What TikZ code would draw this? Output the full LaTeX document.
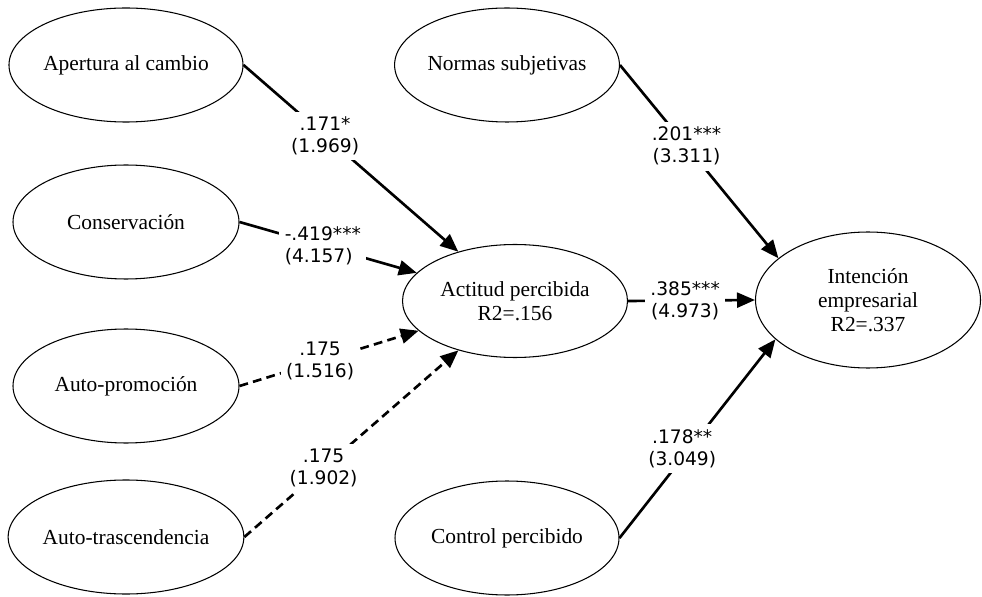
\documentclass[tikz,border=0pt]{standalone}
\usepackage{fontspec}
\setmainfont{Liberation Serif}
\newfontfamily\coeffont{DejaVu Sans}
\usetikzlibrary{arrows.meta,shapes.geometric}

\begin{document}
\begin{tikzpicture}[>={Triangle[length=3.6mm,width=3mm]},
  font=\fontsize{12.2}{13.6}\selectfont,
  lat/.style={draw, ellipse, line width=0.6pt, align=center, inner sep=0pt,
              minimum width=4.52cm, minimum height=2.28cm},
  eff/.style={->, line width=1.5pt},
  effns/.style={eff, dash pattern=on 5pt off 3pt},
  coef/.style={fill=white, inner sep=3pt, align=center,
               font=\coeffont\fontsize{10.6}{12.5}\selectfont}]
  \useasboundingbox (0,0) rectangle (19.64,11.92);

  % valores personales
  \node[lat] (apert) at (2.52,10.62) {Apertura al cambio};
  \node[lat] (cons)  at (2.52,7.48)  {Conservación};
  \node[lat] (promo) at (2.52,4.20)  {Auto-promoción};
  \node[lat] (trasc) at (2.52,1.18)  {Auto-trascendencia};

  % antecedentes de la intención
  \node[lat, minimum width=4.48cm] (normas) at (10.14,10.62) {Normas subjetivas};
  \node[lat, minimum width=4.50cm, minimum height=2.26cm] (act) at (10.30,5.90) {Actitud percibida\\R2=.156};
  \node[lat, minimum width=4.48cm] (ctrl) at (10.14,1.16) {Control percibido};
  \node[lat, minimum width=4.50cm, minimum height=2.72cm] (inten) at (17.36,5.92) {Intención\\empresarial\\R2=.337};

  \draw[eff]   (apert.east) -- node[coef, pos=0.38]{.171*\\(1.969)} (act);
  \draw[eff]   (cons.east)  -- node[coef, pos=0.47, align=left]{-.419***\\(4.157)} (act);
  \draw[effns] (promo.east) -- node[coef, pos=0.45]{.175\\(1.516)} (act);
  \draw[effns] (trasc.east) -- node[coef, pos=0.37]{.175\\(1.902)} (act);

  \draw[eff] (normas.east) -- node[coef, pos=0.42]{.201***\\(3.311)} (inten.155);
  \draw[eff] (act.east)    -- node[coef, pos=0.45]{.385***\\(4.973)} (inten.west);
  \draw[eff] (ctrl.east)   -- node[coef, pos=0.45, xshift=-1.5mm]{.178**\\(3.049)} (inten.203);
\end{tikzpicture}
\end{document}
